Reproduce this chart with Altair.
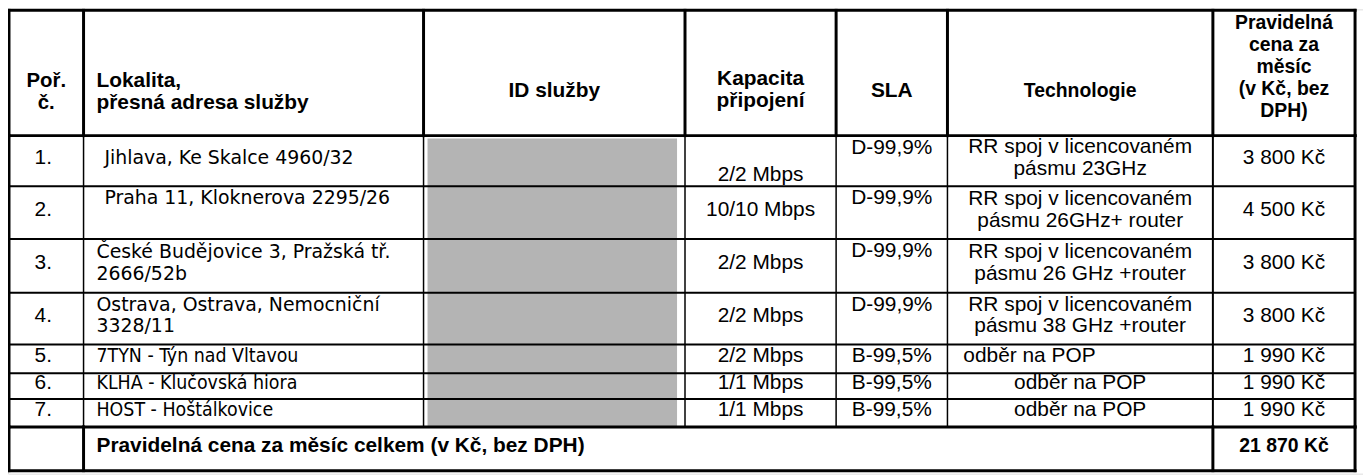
import altair as alt
import pandas as pd

# ---------------- data ----------------
header_cols = [
    ["Poř.", "č."],
    ["Lokalita,", "přesná adresa služby"],
    ["ID služby"],
    ["Kapacita", "připojení"],
    ["SLA"],
    ["Technologie"],
    ["Pravidelná", "cena za", "měsíc", "(v Kč, bez", "DPH)"],
]
poradi = ["1.", "2.", "3.", "4.", "5.", "6.", "7."]
lokalita = [
    ["Jihlava, Ke Skalce 4960/32"],
    ["Praha 11, Kloknerova 2295/26"],
    ["České Budějovice 3, Pražská tř.", "2666/52b"],
    ["Ostrava, Ostrava, Nemocniční", "3328/11"],
    ["7TYN - Týn nad Vltavou"],
    ["KLHA - Klučovská hiora"],
    ["HOST - Hoštálkovice"],
]
kapacita = ["2/2 Mbps", "10/10 Mbps", "2/2 Mbps", "2/2 Mbps", "2/2 Mbps", "1/1 Mbps", "1/1 Mbps"]
sla = ["D-99,9%", "D-99,9%", "D-99,9%", "D-99,9%", "B-99,5%", "B-99,5%", "B-99,5%"]
technologie = [
    ["RR spoj v licencovaném", "pásmu 23GHz"],
    ["RR spoj v licencovaném", "pásmu 26GHz+ router"],
    ["RR spoj v licencovaném", "pásmu 26 GHz +router"],
    ["RR spoj v licencovaném", "pásmu 38 GHz +router"],
    ["odběr na POP"],
    ["odběr na POP"],
    ["odběr na POP"],
]
cena = ["3 800 Kč", "4 500 Kč", "3 800 Kč", "3 800 Kč", "1 990 Kč", "1 990 Kč", "1 990 Kč"]
total_label = "Pravidelná cena za měsíc celkem (v Kč, bez DPH)"
total_value = "21 870 Kč"

# ---------------- layout ----------------
W, H = 1363, 467
col_edges = [9, 84, 426, 689, 841, 953, 1220, 1363]
row_edges = [9, 135, 186, 239, 293, 345, 374, 400, 428, 472]
LH = 22
header_y = [91, 91, 90, 89, 90, 90, 66]
header_size = [20.5, 21, 21, 21, 21, 19.5, 19.5]
lok_indent = [21, 21, 13, 13, 13, 13, 13]
lok_narrow = [False, False, False, False, True, True, True]
lok_valign = ["middle", "top", "middle", "middle", "middle", "middle", "middle"]
kap_valign = ["bottom", "middle", "middle", "middle", "middle", "middle", "middle"]
sla_valign = ["top", "top", "top", "top", "middle", "middle", "middle"]
tech_left = [False, False, False, False, True, False, False]
id_box = dict(x=430, x2=681, y=138, y2=428)


def line_ys(top, bottom, n, valign):
    if valign == "top":
        first = top + 12
    elif valign == "bottom":
        first = bottom - 11 - (n - 1) * LH
    else:
        first = (top + bottom) / 2 - 3 - (n - 1) * LH / 2
    return [first + i * LH for i in range(n)]


def center(c):
    return (col_edges[c] + col_edges[c + 1]) / 2


recs = []


def add(x, ys, lines, group, size=None):
    for yy, t in zip(ys, lines):
        recs.append(dict(x=x, y=yy, text=t, group=group, size=size))


# header
for c, lines in enumerate(header_cols):
    n = len(lines)
    ys = [header_y[c] - (n - 1) * LH / 2 + i * LH for i in range(n)]
    if c == 1:
        add(col_edges[1] + 13, ys, lines, "head_left", header_size[c])
    else:
        add(center(c), ys, lines, "head", header_size[c])

# body rows
for r in range(7):
    top, bot = row_edges[r + 1], row_edges[r + 2]
    add(center(0) - 3, line_ys(top, bot, 1, "middle"), [poradi[r]], "body")
    lk = lokalita[r]
    add(col_edges[1] + lok_indent[r], line_ys(top, bot, len(lk), lok_valign[r]), lk,
        "narrow" if lok_narrow[r] else "tahoma")
    add(center(3), line_ys(top, bot, 1, kap_valign[r]), [kapacita[r]], "body")
    add(center(4), line_ys(top, bot, 1, sla_valign[r]), [sla[r]], "body")
    tl = technologie[r]
    if tech_left[r]:
        add(col_edges[5] + 16, line_ys(top, bot, len(tl), "middle"), tl, "body_left")
    else:
        add(center(5), line_ys(top, bot, len(tl), "middle"), tl, "body")
    add(center(6), line_ys(top, bot, 1, "middle"), [cena[r]], "body")

# total row
tt, tb = row_edges[8], row_edges[9]
add(col_edges[1] + 13, line_ys(tt, tb, 1, "middle"), [total_label], "total_left")
add(center(6), line_ys(tt, tb, 1, "middle"), [total_value], "total")

text_df = pd.DataFrame(recs)

# grid lines
lines = []
x0, x1 = col_edges[0], col_edges[-1]
for i, yv in enumerate(row_edges):
    w = 3 if i in (0, 1, 8, 9) else 2
    lines.append(dict(x=x0, x2=x1, y=yv, y2=yv, w=w))
for i, xv in enumerate(col_edges):
    outer = i in (0, len(col_edges) - 1)
    lines.append(dict(x=xv, x2=xv, y=row_edges[0], y2=row_edges[1], w=3))
    lines.append(dict(x=xv, x2=xv, y=row_edges[1], y2=row_edges[8],
                      w=3 if outer else (2 if i == 6 else 1.5)))
    if outer or i in (1, 6):
        lines.append(dict(x=xv, x2=xv, y=row_edges[8], y2=row_edges[9], w=3))
lines_df = pd.DataFrame(lines)

xs = alt.Scale(domain=[8, 8 + W], nice=False, zero=False)
ys = alt.Scale(domain=[8, 8 + H], nice=False, zero=False, reverse=True)

box = alt.Chart(pd.DataFrame([id_box])).mark_rect(color="#b4b4b4").encode(
    x=alt.X("x:Q", scale=xs, axis=None), x2="x2:Q",
    y=alt.Y("y:Q", scale=ys, axis=None), y2="y2:Q")

rules = alt.Chart(lines_df).mark_rule(color="black", strokeCap="square").encode(
    x=alt.X("x:Q", scale=xs, axis=None), x2="x2:Q",
    y=alt.Y("y:Q", scale=ys, axis=None), y2="y2:Q",
    strokeWidth=alt.StrokeWidth("w:Q", scale=None))

styles = {
    "head": dict(font="Liberation Sans", fontWeight="bold", align="center"),
    "head_left": dict(font="Liberation Sans", fontWeight="bold", align="left"),
    "body": dict(font="Liberation Sans", fontSize=21, align="center"),
    "body_left": dict(font="Liberation Sans", fontSize=21, align="left"),
    "tahoma": dict(font="DejaVu Sans", fontSize=19, align="left"),
    "narrow": dict(font="Liberation Sans Narrow, DejaVu Sans Condensed, Liberation Sans", fontSize=19.5, align="left"),
    "total_left": dict(font="Liberation Sans", fontWeight="bold", fontSize=21, align="left"),
    "total": dict(font="Liberation Sans", fontWeight="bold", fontSize=19.5, align="center"),
}

layers = [box, rules]
for g, st in styles.items():
    sub = text_df[text_df.group == g]
    enc = dict(
        x=alt.X("x:Q", scale=xs, axis=None),
        y=alt.Y("y:Q", scale=ys, axis=None),
        text="text:N")
    if g in ("head", "head_left"):
        enc["size"] = alt.Size("size:Q", scale=None)
    layers.append(
        alt.Chart(sub).mark_text(baseline="middle", color="black", **st).encode(**enc))

chart = alt.layer(*layers).properties(
    width=W, height=H, padding=0,
    autosize=alt.AutoSizeParams(type="none"),
).configure_view(stroke=None).configure(background="white")

chart.save("out.html", embed_options={"renderer": "svg", "actions": False})
